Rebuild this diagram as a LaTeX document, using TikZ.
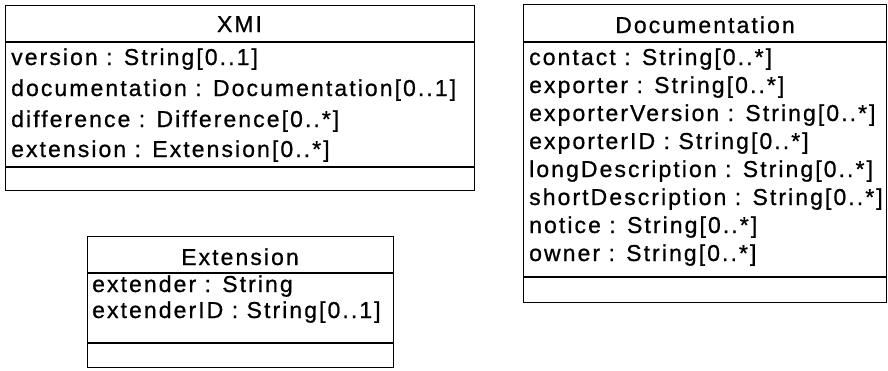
\documentclass[tikz,border=0pt]{standalone}
\usepackage{fontspec}
\setmainfont{Liberation Sans}[LetterSpace=9,FakeBold=0.8]
\begin{document}
\begin{tikzpicture}[x=1pt,y=-1pt,
  frame/.style={draw, line width=1.3pt, rectangle, inner sep=0pt, anchor=north west},
  sep/.style={line width=1.3pt},
  title/.style={font=\fontsize{23}{25}\selectfont, inner sep=0pt, anchor=base},
  attr/.style={font=\fontsize{23}{25}\selectfont, inner sep=0pt, anchor=base west}]
\useasboundingbox (0,0) rectangle (888,370);
% XMI
\node[frame, minimum width=469pt, minimum height=185pt] (xmi) at (5,5) {};
\draw[sep] (5,42) -- (474,42);
\draw[sep] (5,167) -- (474,167);
\node[title] (xmit) at (239.5,32) {XMI};
\node[attr] (xmia) at (11,65) {version : String[0..1]};
\node[attr] (xmib) at (11,96) {documentation : Documentation[0..1]};
\node[attr] (xmic) at (11,127) {difference : Difference[0..*]};
\node[attr] (xmid) at (11,157) {extension : Extension[0..*]};
% Documentation
\node[frame, minimum width=363pt, minimum height=298pt] (doc) at (523,4) {};
\draw[sep] (523,42) -- (886,42);
\draw[sep] (523,277) -- (886,277);
\node[title] (doct) at (705,33) {Documentation};
\node[attr] (doca) at (529,65) {contact : String[0..*]};
\node[attr] (docb) at (529,93) {exporter : String[0..*]};
\node[attr] (docc) at (529,121) {exporterVersion : String[0..*]};
\node[attr] (docd) at (529,149) {exporterID : String[0..*]};
\node[attr] (doce) at (529,177) {longDescription : String[0..*]};
\node[attr] (docf) at (529,205) {shortDescription : String[0..*]};
\node[attr] (docg) at (529,233) {notice : String[0..*]};
\node[attr] (doch) at (529,261) {owner : String[0..*]};
% Extension
\node[frame, minimum width=306pt, minimum height=131pt] (ext) at (87,236) {};
\draw[sep] (87,273) -- (393,273);
\draw[sep] (87,343) -- (393,343);
\node[title] (extt) at (240,265) {Extension};
\node[attr] (exta) at (92,292) {extender : String};
\node[attr] (extb) at (92,318) {extenderID : String[0..1]};
\end{tikzpicture}
\end{document}
